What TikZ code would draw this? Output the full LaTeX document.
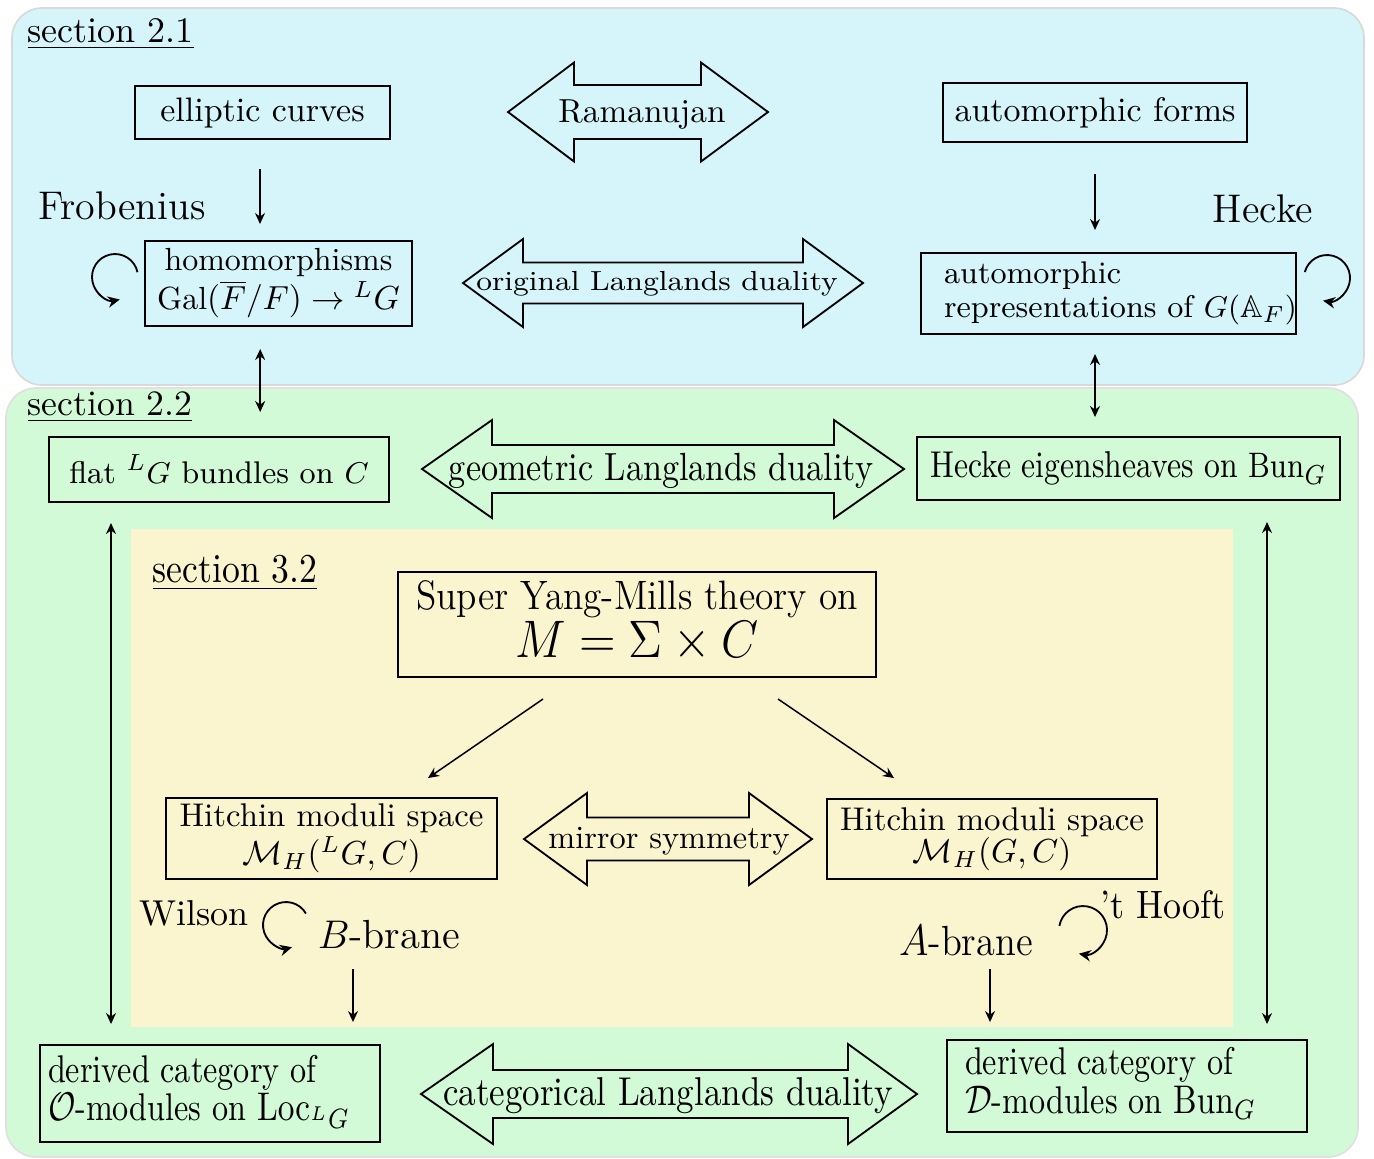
\documentclass[tikz,border=0pt]{standalone}
\usepackage{amsmath,amssymb}
\usepackage{graphicx}
\usetikzlibrary{arrows.meta}
\definecolor{bluebg}{RGB}{214,245,250}
\definecolor{greenbg}{RGB}{211,250,215}
\definecolor{yellowbg}{RGB}{250,244,207}
\newcommand\fs[1]{\fontsize{#1}{#1}\selectfont}
\newcommand\tallx[2][1.18]{\scalebox{1}[#1]{#2}}
\newcommand\dblarr[7]{%
 \draw[dbl] (#1,#5) -- (#2,{#5-#7}) -- (#2,{#5-#6}) -- (#3,{#5-#6}) -- (#3,{#5-#7}) -- (#4,#5)
   -- (#3,{#5+#7}) -- (#3,{#5+#6}) -- (#2,{#5+#6}) -- (#2,{#5+#7}) -- cycle;}
\begin{document}
\begin{tikzpicture}[x=0.3pt,y=-0.3pt,
  box/.style={draw, line width=0.6pt, inner sep=0pt, align=center},
  lbl/.style={inner sep=0pt},
  dbl/.style={draw, line width=0.55pt, line join=miter},
  arr/.style={line width=0.45pt, -{Stealth[length=3.3pt,width=3pt]}},
  darr/.style={line width=0.45pt, {Stealth[length=3.3pt,width=3pt]}-{Stealth[length=3.3pt,width=3pt]}},
  loopa/.style={line width=0.55pt, -{Stealth[length=3.6pt,width=3.4pt]}}]
\fill[white] (0,0) rectangle (1374,1158);
\useasboundingbox (0,0) rectangle (1374,1158);
% panels
\filldraw[fill=bluebg, draw=black!15, line width=0.5pt, rounded corners=9pt] (12,8) rectangle (1364,385);
\filldraw[fill=greenbg, draw=black!12, line width=0.5pt, rounded corners=9pt] (6,388) rectangle (1358,1157);
\fill[yellowbg] (131,529) rectangle (1233,1027);
% section labels
\node[lbl, anchor=base west, font=\fs{10.8}] (s21) at (27,42) {\underline{section 2.1}};
\node[lbl, anchor=base west, font=\fs{10.7}] (s22) at (27,415) {\underline{section 2.2}};
\node[lbl, anchor=base west, font=\fs{10.7}] (s32) at (152,582) {\tallx[1.15]{\underline{section 3.2}}};
% section 2.1
\node[box, minimum width=76.5pt, minimum height=15.9pt, font=\fs{10.2}] (ell) at (262.5,112.5) {elliptic curves};
\node[box, minimum width=91.2pt, minimum height=17.7pt, font=\fs{10.2}] (autf) at (1095,112.5) {automorphic forms};
\node[box, minimum width=80.1pt, minimum height=25.5pt, font=\fontsize{9.6}{11.7}\selectfont] (hom) at (278.5,283.5)
  {homomorphisms\\ Gal$(\overline{F}/F)\to{}^L G$};
\node[box, minimum width=112.5pt, minimum height=24.3pt, font=\fontsize{9.4}{10.2}\selectfont] (arep) at (1108.5,293.5)
  {\hspace*{6.9pt}\makebox[105.6pt][l]{\begin{tabular}{@{}l@{}}automorphic\\ representations of $G(\mathbb{A}_F)$\end{tabular}}};
\node[lbl, anchor=base, font=\fs{12}] (frob) at (122,219) {Frobenius};
\node[lbl, anchor=base, font=\fs{12}] (hecke) at (1263,222) {Hecke};
\dblarr{508}{574}{701}{768}{112}{27}{49.5}
\node[lbl, anchor=base, font=\fs{10}] (ram) at (642,122) {Ramanujan};
\dblarr{463}{523}{803}{863}{283}{20.5}{44}
\node[lbl, anchor=base, font=\fs{9.2}] (orig) at (657,290) {\tallx[0.9]{original Langlands duality}};
\draw[arr, shorten <=8.7pt, shorten >=4.8pt] ([xshift=-0.75pt]ell.south) -- ([xshift=-0.75pt]ell.south |- hom.north);
\draw[arr, shorten <=9.3pt, shorten >=6.6pt] (autf.south) -- (autf.south |- arep.north);
\draw[loopa] (115,277) ++(-12:23) arc[start angle=-12, end angle=-282, radius=23];
\draw[loopa] (1327,278) ++(-165:23) arc[start angle=-165, end angle=100, radius=23];
% section 2.2
\node[box, minimum width=102pt, minimum height=19.5pt, font=\fs{9.4}] (flat) at (219,469.5) {flat ${}^L G$ bundles on $C$};
\node[box, minimum width=126.9pt, minimum height=18.9pt, font=\fs{9.5}] (heig) at (1128.5,468.5)
  {\tallx{Hecke eigensheaves on $\mathrm{Bun}_G$}};
\dblarr{422}{492}{834}{904}{469}{24}{49}
\node[lbl, anchor=base, font=\fs{10.25}] (geom) at (661,480) {\tallx[1.15]{geometric Langlands duality}};
\draw[darr, shorten <=6.6pt, shorten >=7.2pt] ([xshift=-5.5pt]hom.south) -- ([xshift=-5.5pt]hom.south |- flat.north);
\draw[darr, shorten <=5.7pt, shorten >=5.7pt] ([xshift=-4.05pt]arep.south) -- ([xshift=-4.05pt]arep.south |- heig.north);
% section 3.2
\node[box, minimum width=143.4pt, minimum height=31.5pt] (sym) at (637,624.5)
  {\tallx[1.1]{\fontsize{11.2}{10}\selectfont\begin{tabular}{@{}c@{}}Super Yang-Mills theory on\\ \fontsize{13.9}{14}\selectfont $M=\Sigma\times C$\end{tabular}}};
\node[box, minimum width=99.3pt, minimum height=24.3pt, font=\fontsize{9.85}{9.6}\selectfont] (hitL) at (331.5,838.5)
  {Hitchin moduli space\\ $\mathcal{M}_H({}^L G,C)$};
\node[box, minimum width=99pt, minimum height=24pt, font=\fontsize{9.85}{9.6}\selectfont] (hitR) at (992,839)
  {Hitchin moduli space\\ $\mathcal{M}_H(G,C)$};
\dblarr{524}{587}{749}{812}{839}{21.5}{46}
\node[lbl, anchor=base, font=\fs{9.7}] (mirr) at (669,848) {mirror symmetry};
\draw[arr] ([xshift=-28.2pt,yshift=-6.3pt]sym.south) -- ([xshift=28.95pt,yshift=5.7pt]hitL.north);
\draw[arr] ([xshift=42.3pt,yshift=-6.3pt]sym.south) -- ([xshift=-29.4pt,yshift=6pt]hitR.north);
\node[lbl, anchor=base, font=\fs{10.8}] (wil) at (194,925) {Wilson};
\node[lbl, anchor=base, font=\fs{12.2}] (bb) at (389,948) {$B$-brane};
\node[lbl, anchor=base, font=\fs{11.5}] (ab) at (966,955) {\tallx[1.1]{$A$-brane}};
\node[lbl, anchor=base, font=\fs{10.8}] (hooft) at (1163,918) {\tallx[1.1]{'t Hooft}};
\draw[loopa] (286,925) ++(-30:23) arc[start angle=-30, end angle=-285, radius=23];
\draw[loopa] (1083,930) ++(-170:24) arc[start angle=-170, end angle=100, radius=24];
% bottom
\node[box, minimum width=102pt, minimum height=29.1pt, font=\fontsize{9.65}{9.25}\selectfont] (dL) at (210,1093.5)
  {\hspace*{2.4pt}\makebox[99.6pt][l]{\tallx[1.2]{\begin{tabular}{@{}l@{}}derived category of\\ $\mathcal{O}$-modules on $\mathrm{Loc}_{{}^L G}$\end{tabular}}}};
\node[box, minimum width=108pt, minimum height=27.6pt, font=\fontsize{9.65}{9.25}\selectfont] (dR) at (1127,1086)
  {\hspace*{5.4pt}\makebox[102.6pt][l]{\tallx[1.2]{\begin{tabular}{@{}l@{}}derived category of\\ $\mathcal{D}$-modules on $\mathrm{Bun}_G$\end{tabular}}}};
\dblarr{421}{493}{848}{917}{1094}{24}{50}
\node[lbl, anchor=base, font=\fs{10.5}] (cat) at (668,1105) {\tallx[1.15]{categorical Langlands duality}};
\draw[arr, shorten <=6pt, shorten >=6.6pt] ([xshift=-10.8pt]bb.south) -- ([xshift=-10.8pt]bb.south |- dL.north);
\draw[arr, shorten <=3.9pt, shorten >=5.1pt] ([xshift=7.2pt]ab.south) -- ([xshift=7.2pt]ab.south |- dR.north);
\draw[darr, shorten <=6pt, shorten >=6pt] ([xshift=-32.4pt]flat.south) -- ([xshift=-32.4pt]flat.south |- dL.north);
\draw[darr, shorten <=6.3pt, shorten >=4.5pt] ([xshift=41.55pt]heig.south) -- ([xshift=41.55pt]heig.south |- dR.north);
\end{tikzpicture}
\end{document}
